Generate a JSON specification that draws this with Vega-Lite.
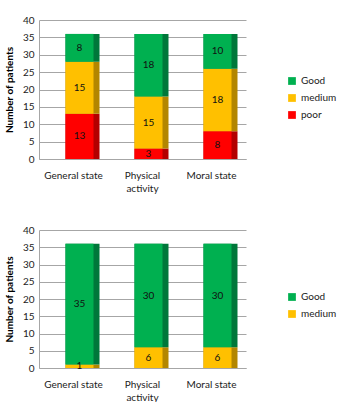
{
  "$schema": "https://vega.github.io/schema/vega-lite/v6.json",
  "background": "white",
  "padding": {"top": 15, "left": 4, "right": 0, "bottom": 0},
  "spacing": 32,
  "config": {
    "font": "Lato",
    "view": {"stroke": null},
    "axis": {"labelFont": "Lato", "titleFont": "Lato", "labelColor": "#222", "titleColor": "#000", "labelFontSize": 10, "gridColor": "#a6a6a6", "domainColor": "#a6a6a6", "tickColor": "#a6a6a6", "labelOverlap": false},
    "legend": {"labelFont": "Lato", "labelFontSize": 10, "labelColor": "#222", "symbolType": "square", "symbolSize": 60, "symbolStrokeWidth": 0, "rowPadding": 7, "title": null}
  },
  "datasets": {
    "top": [
      {"cat": "General state", "level": "poor", "n": 13, "rank": 1},
      {"cat": "General state", "level": "medium", "n": 15, "rank": 2},
      {"cat": "General state", "level": "Good", "n": 8, "rank": 3},
      {"cat": "Physical activity", "level": "poor", "n": 3, "rank": 1},
      {"cat": "Physical activity", "level": "medium", "n": 15, "rank": 2},
      {"cat": "Physical activity", "level": "Good", "n": 18, "rank": 3},
      {"cat": "Moral state", "level": "poor", "n": 8, "rank": 1},
      {"cat": "Moral state", "level": "medium", "n": 18, "rank": 2},
      {"cat": "Moral state", "level": "Good", "n": 10, "rank": 3}
    ],
    "bottom": [
      {"cat": "General state", "level": "medium", "n": 1, "rank": 2},
      {"cat": "General state", "level": "Good", "n": 35, "rank": 3},
      {"cat": "Physical activity", "level": "medium", "n": 6, "rank": 2},
      {"cat": "Physical activity", "level": "Good", "n": 30, "rank": 3},
      {"cat": "Moral state", "level": "medium", "n": 6, "rank": 2},
      {"cat": "Moral state", "level": "Good", "n": 30, "rank": 3}
    ]
  },
  "vconcat": [
    {
      "width": 207, "height": 139,
      "data": {"name": "top"},
      "encoding": {
        "x": {"field": "cat", "type": "nominal", "sort": ["General state", "Physical activity", "Moral state"], "scale": {"paddingInner": 0, "paddingOuter": 0}, "axis": {"title": null, "labelAngle": 0, "ticks": false, "labelPadding": 11, "labelExpr": "datum.label == 'Physical activity' ? ['Physical', 'activity'] : datum.label", "labelLineHeight": 13}},
        "y": {"field": "n", "type": "quantitative", "stack": "zero", "scale": {"domain": [0, 40]}, "axis": {"title": "Number of patients", "titleFontWeight": "bold", "titleFontSize": 10, "values": [0,5,10,15,20,25,30,35,40], "ticks": false, "labelPadding": 5, "titlePadding": 8}},
        "order": {"field": "rank", "type": "quantitative"}
      },
      "layer": [
        {"mark": {"type": "bar", "width": 34, "xOffset": 9},
         "encoding": {"color": {"field": "level", "type": "nominal", "scale": {"domain": ["Good", "medium", "poor"], "range": ["#00773a", "#b38600", "#b30000"]}, "legend": null}}},
        {"mark": {"type": "bar", "width": 28, "xOffset": 6},
         "encoding": {"fill": {"field": "level", "type": "nominal", "scale": {"domain": ["Good", "medium", "poor"], "range": ["#00b050", "#ffc000", "#ff0000"]}, "legend": {"orient": "none", "legendX": 248, "legendY": 56}}}},
        {"mark": {"type": "text", "fontSize": 10, "color": "#111", "dx": 6},
         "encoding": {"y": {"field": "n", "type": "quantitative", "stack": "zero", "bandPosition": 0.5}, "text": {"field": "n"}}}
      ],
      "resolve": {"scale": {"color": "independent", "fill": "independent"}}
    },
    {
      "width": 207, "height": 138,
      "data": {"name": "bottom"},
      "encoding": {
        "x": {"field": "cat", "type": "nominal", "sort": ["General state", "Physical activity", "Moral state"], "scale": {"paddingInner": 0, "paddingOuter": 0}, "axis": {"title": null, "labelAngle": 0, "ticks": false, "labelPadding": 11, "labelExpr": "datum.label == 'Physical activity' ? ['Physical', 'activity'] : datum.label", "labelLineHeight": 13}},
        "y": {"field": "n", "type": "quantitative", "stack": "zero", "scale": {"domain": [0, 40]}, "axis": {"title": "Number of patients", "titleFontWeight": "bold", "titleFontSize": 10, "values": [0,5,10,15,20,25,30,35,40], "ticks": false, "labelPadding": 5, "titlePadding": 8}},
        "order": {"field": "rank", "type": "quantitative"}
      },
      "layer": [
        {"mark": {"type": "bar", "width": 34, "xOffset": 9},
         "encoding": {"color": {"field": "level", "type": "nominal", "scale": {"domain": ["Good", "medium"], "range": ["#00773a", "#b38600"]}, "legend": null}}},
        {"mark": {"type": "bar", "width": 28, "xOffset": 6},
         "encoding": {"fill": {"field": "level", "type": "nominal", "scale": {"domain": ["Good", "medium"], "range": ["#00b050", "#ffc000"]}, "legend": {"orient": "none", "legendX": 248, "legendY": 62}}}},
        {"mark": {"type": "text", "fontSize": 10, "color": "#111", "dx": 6},
         "encoding": {"y": {"field": "n", "type": "quantitative", "stack": "zero", "bandPosition": 0.5}, "text": {"field": "n"}}}
      ],
      "resolve": {"scale": {"color": "independent", "fill": "independent"}}
    }
  ]
}
